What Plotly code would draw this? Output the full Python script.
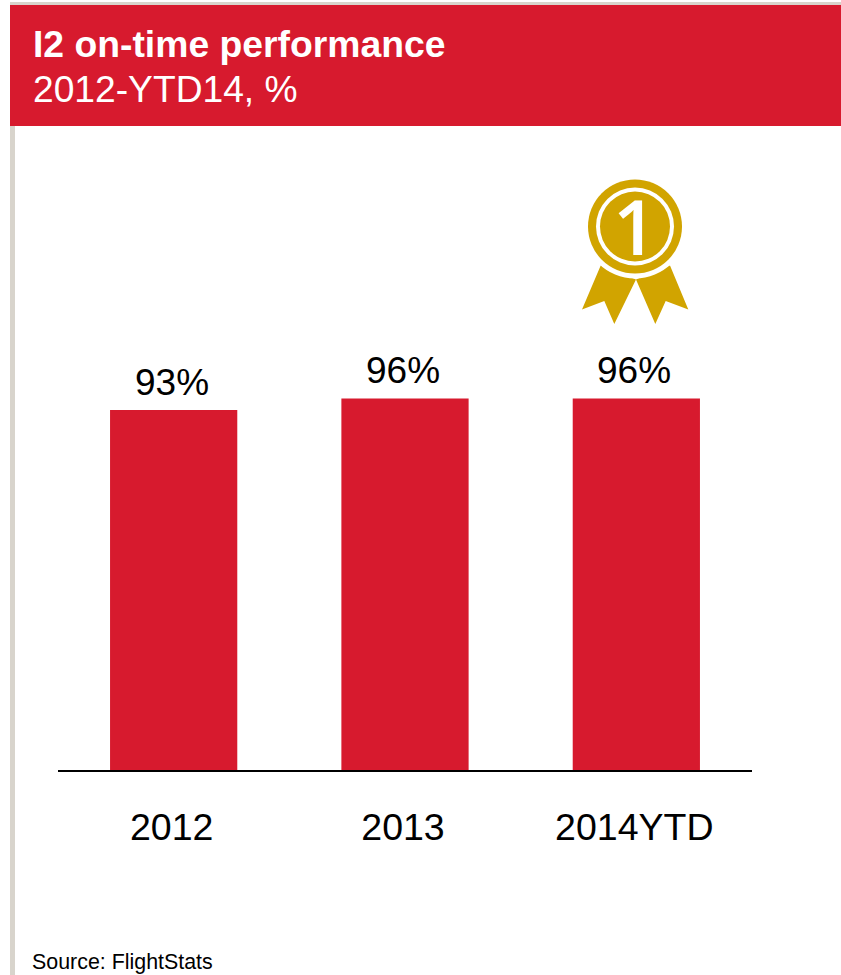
import plotly.graph_objects as go

categories = ["2012", "2013", "2014YTD"]
on_time_pct = [93, 96, 96]

RED = "#D71A2E"
GREY = "#D8D4CC"
GOLD = "#D1A400"
W, H = 841, 975
L, R, T, B = 58, 89, 126, 205
FONT = "Liberation Sans"


def px_x(x):
    return (x - L) / (W - L - R)


def px_y(y):
    return (H - B - y) / (H - T - B)


def rect(x0, y0, x1, y1, color):
    return dict(type="rect", xref="paper", yref="paper", layer="below",
                x0=px_x(x0), x1=px_x(x1), y0=px_y(y1), y1=px_y(y0),
                fillcolor=color, line_width=0)


def circle(cx, cy, r, color):
    return dict(type="circle", xref="paper", yref="paper", layer="above",
                x0=px_x(cx - r), x1=px_x(cx + r), y0=px_y(cy + r), y1=px_y(cy - r),
                fillcolor=color, line_width=0)


def polygon(points, color):
    path = "M " + " L ".join(f"{px_x(x):.5f},{px_y(y):.5f}" for x, y in points) + " Z"
    return dict(type="path", xref="paper", yref="paper", layer="above",
                path=path, fillcolor=color, line_width=0)


# Rosette: two ribbon tails behind a ringed disc
left_tail = [(600.7, 265.5), (582, 309.5), (604.3, 301), (614.3, 324), (636, 279.5)]
right_tail = [(670, 265.5), (688.3, 309.5), (665.7, 301), (655.3, 324), (636, 279.5)]
medal = [
    polygon(left_tail, GOLD),
    polygon(right_tail, GOLD),
    circle(635, 226.5, 52, "white"),
    circle(635, 226.5, 47, GOLD),
    circle(635, 226.5, 39, "white"),
    circle(635, 226.5, 35, GOLD),
]

fig = go.Figure(
    go.Bar(
        x=categories,
        y=on_time_pct,
        marker=dict(color=RED, line_width=0),
        cliponaxis=False,
        hoverinfo="skip",
    )
)


def label(text, x, y, size, color="black", family=FONT, anchor="left", weight=None):
    font = dict(size=size, color=color, family=family)
    if weight:
        font["weight"] = weight
    return dict(text=text, xref="paper", yref="paper", x=px_x(x), y=px_y(y),
                xanchor=anchor, yanchor="middle", showarrow=False, font=font)


# Value labels sit a fixed distance above each bar; category axes place
# annotations by position index
value_labels = [
    dict(text=f"{v}%", x=i, y=v, xref="x", yref="y", xanchor="center",
         yanchor="bottom", yshift=5, xshift=-2, showarrow=False,
         font=dict(size=37, color="black", family=FONT))
    for i, v in enumerate(on_time_pct)
]

fig.update_layout(
    width=W,
    height=H,
    margin=dict(l=L, r=R, t=T, b=B, pad=0),
    paper_bgcolor="white",
    plot_bgcolor="white",
    bargap=0.45,
    showlegend=False,
    xaxis=dict(
        type="category",
        categoryorder="array",
        categoryarray=categories,
        range=[-0.5, 2.5],
        showline=True,
        linecolor="black",
        linewidth=2,
        showgrid=False,
        ticks="",
        ticklabelstandoff=23,
        ticklabelshift=-2,
        tickfont=dict(size=37.5, color="black", family=FONT),
    ),
    yaxis=dict(range=[0, 166.4], visible=False, showgrid=False, zeroline=False),
    shapes=[
        rect(10, 2, W, 5, GREY),
        rect(10, 5, 15, H, GREY),
        rect(10, 5, W, 126, RED),
    ] + medal,
    annotations=[
        label("<b>I2 on-time performance</b>", 31, 44, 37.3, "white"),
        label("2012-YTD14, %", 31, 88.5, 37.2, "white"),
        label("Source: FlightStats", 30, 962, 21.4),
        label("1", 634, 226, 76, "white", "Open Sans", "center", weight=600),
    ] + value_labels,
)

fig.write_html("out.html", config={"displayModeBar": False})
